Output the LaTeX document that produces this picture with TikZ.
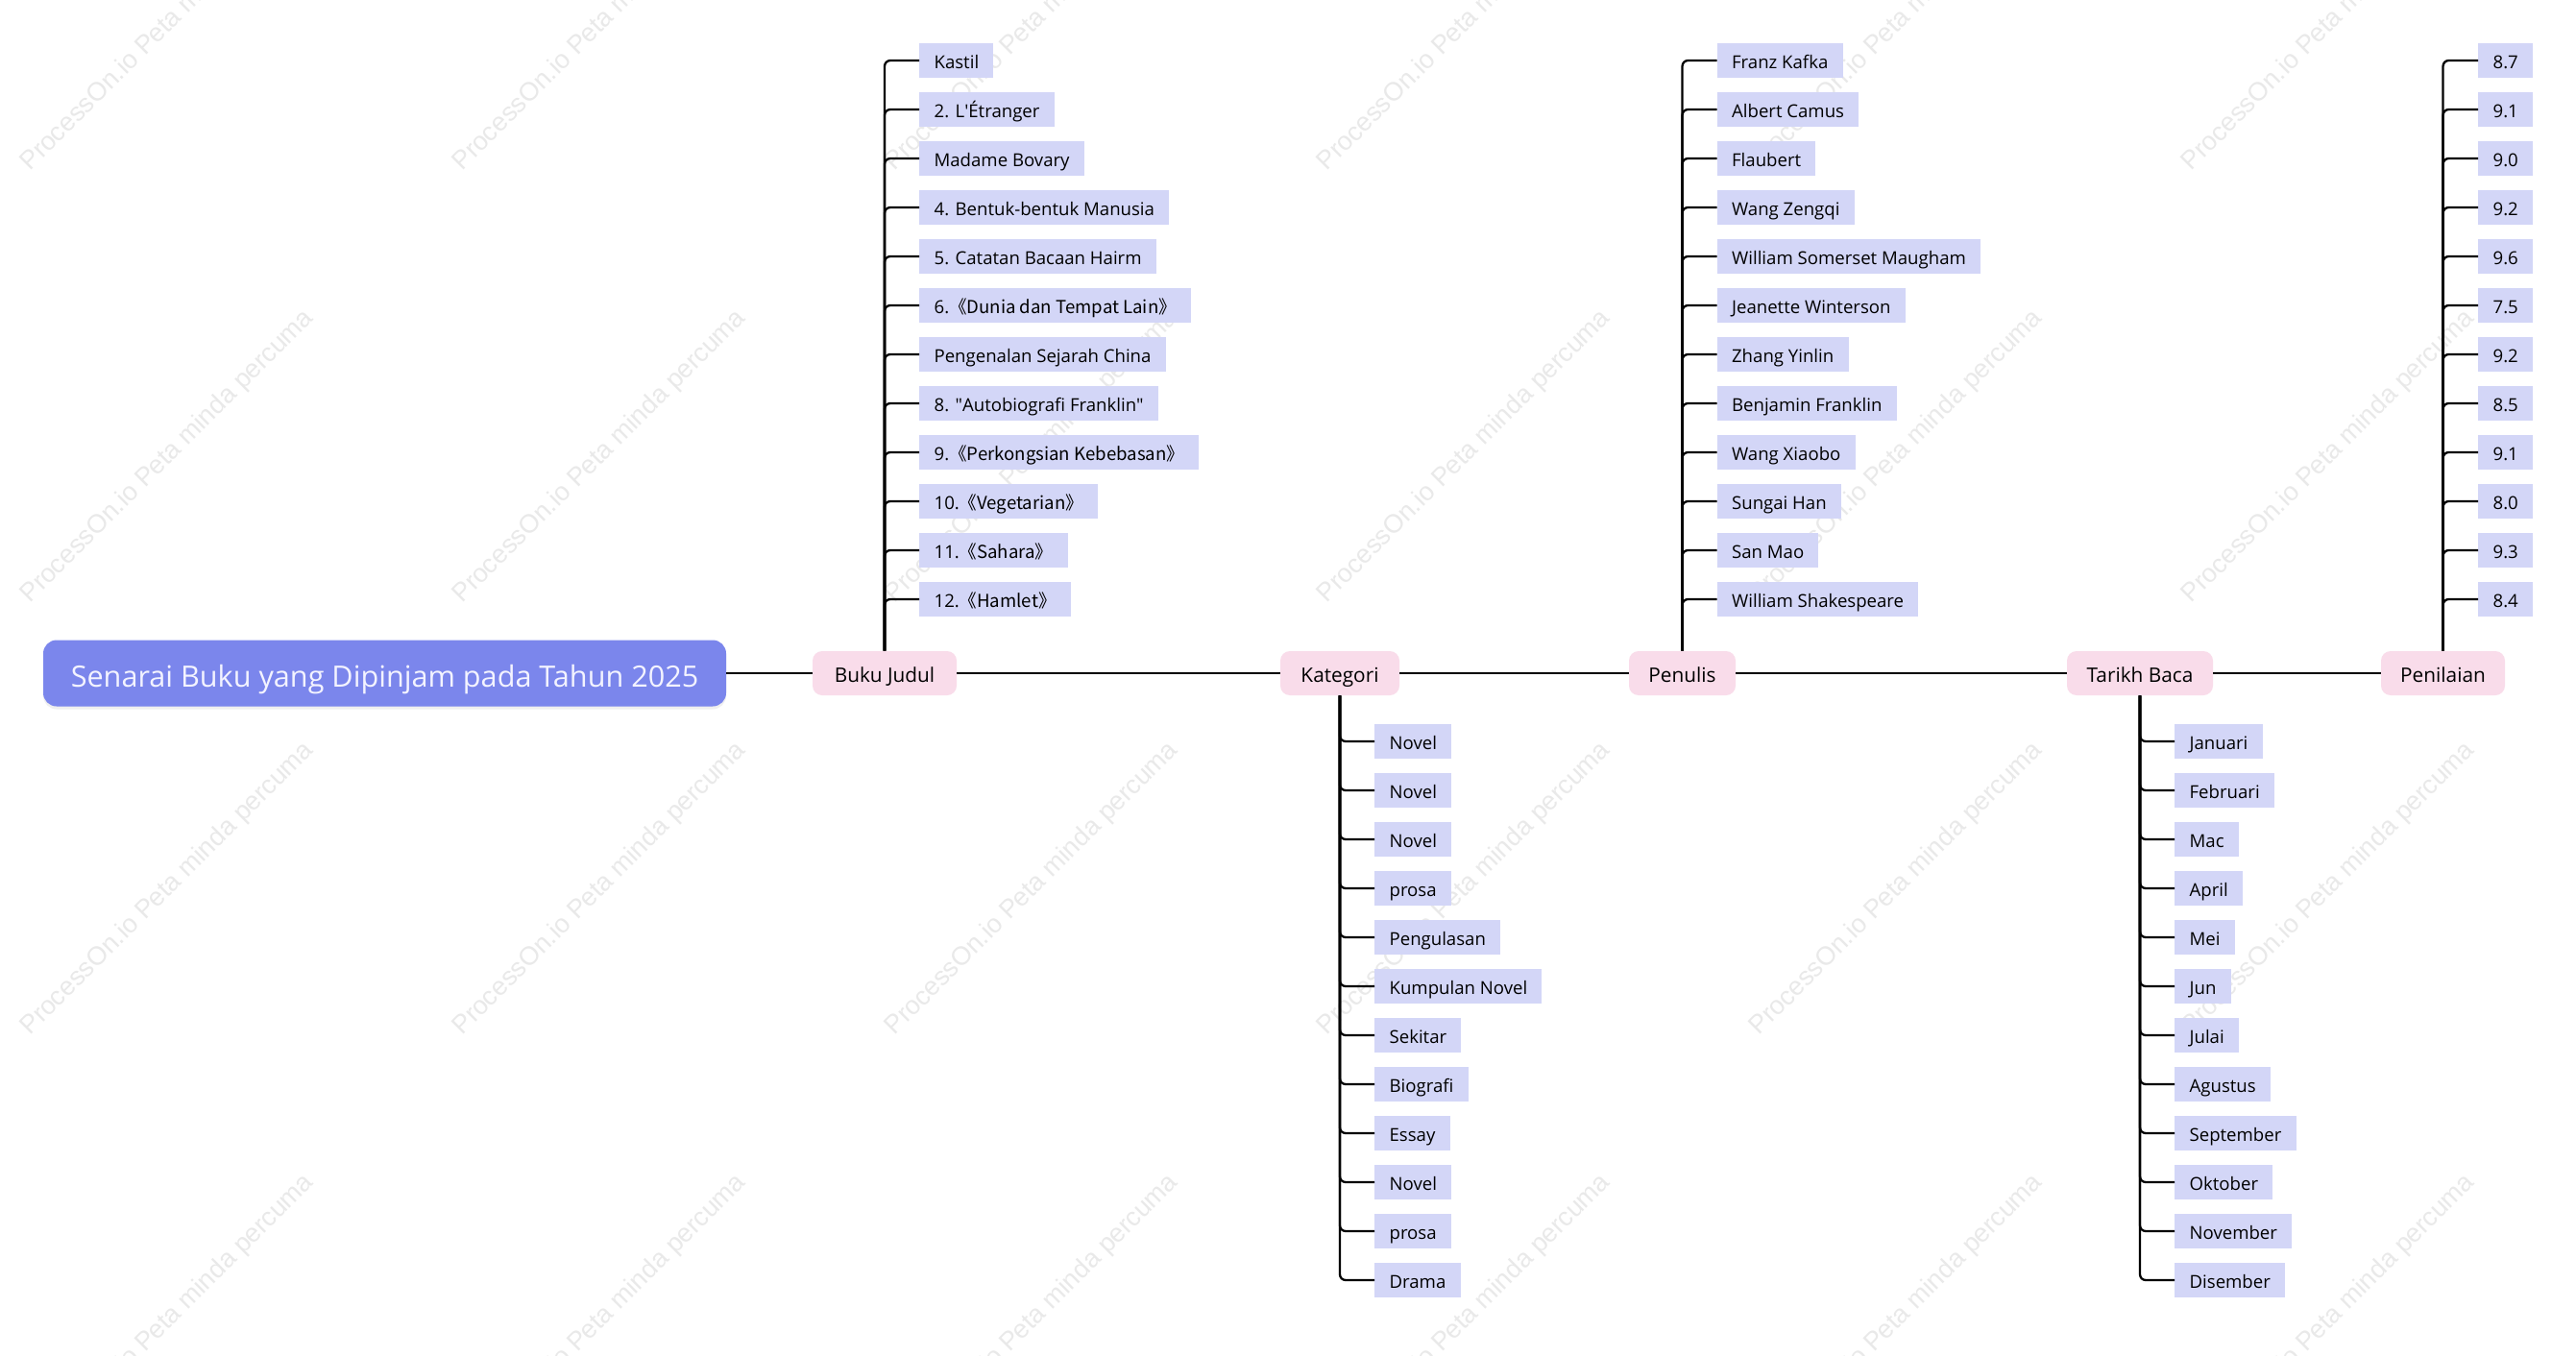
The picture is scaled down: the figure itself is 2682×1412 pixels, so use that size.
\documentclass[tikz,border=0pt]{standalone}
\usepackage{fontspec}
\setmainfont{Open Sans}
\newfontfamily\cjkf{Noto Sans CJK SC}
\newfontfamily\wmfont{Liberation Sans}
\usetikzlibrary{shadows}
\definecolor{rootc}{HTML}{7B86EC}
\definecolor{roottext}{HTML}{F3F3FF}
\definecolor{catc}{HTML}{F9DCEA}
\definecolor{leafc}{HTML}{D3D6F7}
\definecolor{wmc}{HTML}{E9E9E9}
\newcommand{\myLq}{\cjkf{《}}
\newcommand{\myRq}{\cjkf{》}}
\begin{document}
\begin{tikzpicture}[x=0.5pt,y=-0.5pt,
  rootbox/.style={fill=rootc, rounded corners=7pt, minimum width=355.5pt, minimum height=34.5pt,
    inner sep=0pt, text=roottext, font=\fontsize{15.3}{18}\selectfont, text height=18.2pt, text depth=3.5pt,
    drop shadow={opacity=0.12,shadow xshift=0pt,shadow yshift=-1.5pt}},
  catbox/.style={fill=catc, rounded corners=5pt, minimum height=23pt, inner sep=0pt,
    font=\fontsize{10.4}{12}\selectfont, text height=11.2pt, text depth=2pt},
  leafbox/.style={fill=leafc, minimum height=18pt, inner xsep=7.6pt, inner ysep=0pt, anchor=west,
    font=\fontsize{9.3}{11}\selectfont, text height=10.2pt, text depth=2pt},
  mainline/.style={line width=1.2pt, black},
  branch/.style={line width=1.15pt, black, rounded corners=3pt},
  wm/.style={font=\wmfont\fontsize{13.5}{15}\selectfont, text=wmc, inner sep=0pt, rotate=45, anchor=base west}
]
\useasboundingbox (0,0) rectangle (2682,1412);
\fill[white] (0,0) rectangle (2682,1412);
% watermarks
\begin{scope}
\clip (0,0) rectangle (2682,1412);
\foreach \i in {0,...,5}{
  \foreach \j in {0,...,3}{
    \node[wm] (wm-\i-\j) at ({31+450*\i},{179+450*\j}) {ProcessOn.io Peta minda percuma};
  }
}
\end{scope}
% root and categories
\node[rootbox] (root) at (400.5,701) {Senarai Buku yang Dipinjam pada Tahun 2025};
\node[catbox, minimum width=75pt] (c1) at (921,701) {Buku Judul};
\node[catbox, minimum width=62pt] (c2) at (1395,701) {Kategori};
\node[catbox, minimum width=55.5pt] (c3) at (1751.5,701) {Penulis};
\node[catbox, minimum width=76pt] (c4) at (2228,701) {Tarikh Baca};
\node[catbox, minimum width=64.5pt] (c5) at (2543.5,701) {Penilaian};
\draw[mainline] (root.east) -- (c1.west);
\draw[mainline] (c1.east) -- (c2.west);
\draw[mainline] (c2.east) -- (c3.west);
\draw[mainline] (c3.east) -- (c4.west);
\draw[mainline] (c4.east) -- (c5.west);
% Buku Judul leaves
\foreach \t [count=\k] in {{Kastil},{2. L\textquotesingle Étranger},{Madame Bovary},{4. Bentuk-bentuk Manusia},{5. Catatan Bacaan Hairm},{6.\myLq Dunia dan Tempat Lain\myRq},{Pengenalan Sejarah China},{8. \textquotedbl Autobiografi Franklin\textquotedbl},{9.\myLq Perkongsian Kebebasan\myRq},{10.\myLq Vegetarian\myRq},{11.\myLq Sahara\myRq},{12.\myLq Hamlet\myRq}}{
  \node[leafbox] (a\k) at (957,{63+51*(\k-1)}) {\t};
  \draw[branch] (c1.north) |- (a\k.west);
}
% Kategori leaves
\foreach \t [count=\k] in {Novel,Novel,Novel,prosa,Pengulasan,Kumpulan Novel,Sekitar,Biografi,Essay,Novel,prosa,Drama}{
  \node[leafbox] (b\k) at (1431,{772+51*(\k-1)}) {\t};
  \draw[branch] (c2.south) |- (b\k.west);
}
% Penulis leaves
\foreach \t [count=\k] in {Franz Kafka,Albert Camus,Flaubert,Wang Zengqi,William Somerset Maugham,Jeanette Winterson,Zhang Yinlin,Benjamin Franklin,Wang Xiaobo,Sungai Han,San Mao,William Shakespeare}{
  \node[leafbox] (p\k) at (1787.5,{63+51*(\k-1)}) {\t};
  \draw[branch] (c3.north) |- (p\k.west);
}
% Tarikh Baca leaves
\foreach \t [count=\k] in {Januari,Februari,Mac,April,Mei,Jun,Julai,Agustus,September,Oktober,November,Disember}{
  \node[leafbox] (t\k) at (2264,{772+51*(\k-1)}) {\t};
  \draw[branch] (c4.south) |- (t\k.west);
}
% Penilaian leaves
\foreach \t [count=\k] in {8.7,9.1,9.0,9.2,9.6,7.5,9.2,8.5,9.1,8.0,9.3,8.4}{
  \node[leafbox] (r\k) at (2580,{63+51*(\k-1)}) {\t};
  \draw[branch] (c5.north) |- (r\k.west);
}
\end{tikzpicture}
\end{document}
